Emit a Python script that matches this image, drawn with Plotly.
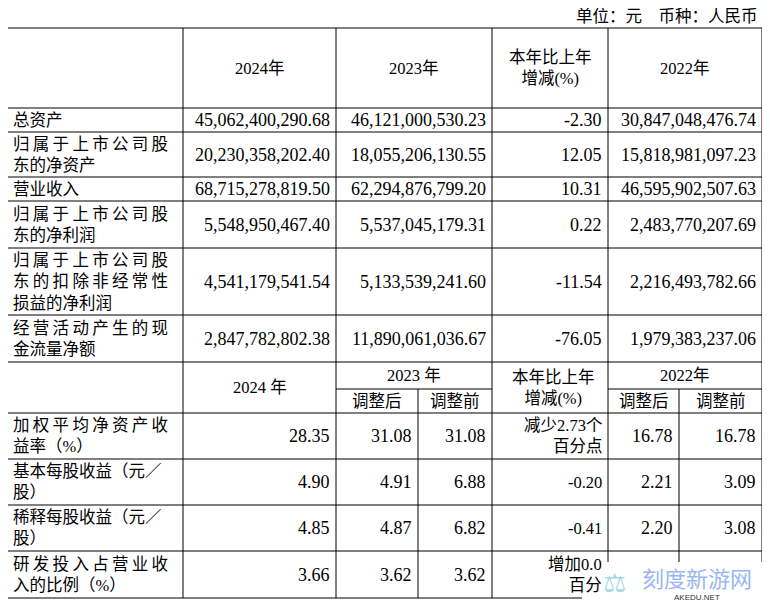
import plotly.graph_objects as go

unit_text = "单位：元　币种：人民币"
header1 = ["", "2024年", "2023年", "本年比上年<br>增减(%)", "2022年"]
labels1 = ["总资产", "归属于上市公司股<br>东的净资产", "营业收入", "归属于上市公司股<br>东的净利润",
           "归属于上市公司股<br>东的扣除非经常性<br>损益的净利润", "经营活动产生的现<br>金流量净额"]
v2024 = ["45,062,400,290.68", "20,230,358,202.40", "68,715,278,819.50", "5,548,950,467.40",
         "4,541,179,541.54", "2,847,782,802.38"]
v2023 = ["46,121,000,530.23", "18,055,206,130.55", "62,294,876,799.20", "5,537,045,179.31",
         "5,133,539,241.60", "11,890,061,036.67"]
vchg = ["-2.30", "12.05", "10.31", "0.22", "-11.54", "-76.05"]
v2022 = ["30,847,048,476.74", "15,818,981,097.23", "46,595,902,507.63", "2,483,770,207.69",
         "2,216,493,782.66", "1,979,383,237.06"]

labels2 = ["加权平均净资产收<br>益率（%）", "基本每股收益（元／<br>股）", "稀释每股收益（元／<br>股）",
           "研发投入占营业收<br>入的比例（%）"]
r2024 = ["28.35", "4.90", "4.85", "3.66"]
r2023a = ["31.08", "4.91", "4.87", "3.62"]
r2023b = ["31.08", "6.88", "6.82", "3.62"]
rchg = ["减少2.73个<br>百分点", "-0.20", "-0.41", "增加0.0<br>百分"]
r2022a = ["16.78", "2.21", "2.20", ""]
r2022b = ["16.78", "3.09", "3.08", ""]

X = [7, 183, 336, 492, 608, 762]
XS1, XS2 = 418, 679
Y1 = [28, 108, 132, 177, 201, 248, 315, 362]
YH2, YHM = 413, 389
Y2 = [413, 459, 505, 551, 598]

def spaced(s):
    lines = s.split("<br>")
    out = []
    for i, ln in enumerate(lines):
        if i < len(lines) - 1 and len(ln) == 8:
            ln = "\u2009".join(ln)
        out.append(ln)
    return "<br>".join(out)

fig = go.Figure()
shapes = []
def line(x0, y0, x1, y1):
    shapes.append(dict(type="line", x0=x0, y0=y0, x1=x1, y1=y1, xref="x", yref="y",
                       line=dict(color="black", width=1)))
for y in Y1 + [YH2] + Y2[1:]:
    line(X[0], y, X[-1], y)
line(X[2], YHM, X[3], YHM); line(X[4], YHM, X[5], YHM)
for x in X:
    line(x, Y1[0], x, Y2[-1])
line(XS1, YHM, XS1, Y2[-1]); line(XS2, YHM, XS2, Y2[-1])

ann = []
FN = dict(family="Liberation Serif, Noto Sans CJK SC", size=18, color="black")
FC = dict(family="Liberation Serif, Noto Sans CJK SC", size=16.5, color="black")
def t(x, y, s, anchor="right", f=FN):
    ann.append(dict(x=x, y=y, text=s, xref="x", yref="y", showarrow=False, xanchor=anchor,
                    yanchor="middle", align=anchor, font=f))

t(760, 16, unit_text, f=FC)
ymid = (Y1[0] + Y1[1]) / 2
for i in range(1, 5):
    t((X[i] + X[i + 1]) / 2, ymid, header1[i], "center", FC)
cols = [v2024, v2023, vchg, v2022]
for r in range(6):
    yc = (Y1[r + 1] + Y1[r + 2]) / 2
    t(X[0] + 4, yc, spaced(labels1[r]), "left", FC)
    for c in range(4):
        t(X[c + 2] - 4, yc, cols[c][r])
hm = (Y1[-1] + YH2) / 2
t((X[1] + X[2]) / 2, hm, "2024 年", "center", FC)
t((X[2] + X[3]) / 2, (Y1[-1] + YHM) / 2, "2023 年", "center", FC)
t((X[4] + X[5]) / 2, (Y1[-1] + YHM) / 2, "2022年", "center", FC)
t((X[3] + X[4]) / 2 + 3, hm, "本年比上年<br>增减(%)", "center", FC)
for xa, xb in [(X[2], XS1), (XS1, X[3]), (X[4], XS2), (XS2, X[5])]:
    t((xa + xb) / 2, (YHM + YH2) / 2, "调整后" if xa in (X[2], X[4]) else "调整前", "center", FC)
rx = [X[2], XS1, X[3], X[4], XS2, X[5]]
cols2 = [r2024, r2023a, r2023b, rchg, r2022a, r2022b]
for r in range(4):
    yc = (Y2[r] + Y2[r + 1]) / 2
    t(X[0] + 4, yc, spaced(labels2[r]), "left", FC)
    for c in range(6):
        if cols2[c][r]:
            t(rx[c] - 4, yc, cols2[c][r], f=FC if c == 3 else FN)

# watermark
shapes.append(dict(type="rect", x0=582, y0=562, x1=770, y1=608, xref="x", yref="y",
                   fillcolor="white", line=dict(width=0)))
shapes.append(dict(type="rect", x0=764, y0=562, x1=770, y1=608, xref="x", yref="y",
                   fillcolor="#e6e6e6", line=dict(width=0)))
ann.append(dict(x=697, y=577, text="刻度新游网", xref="x", yref="y", showarrow=False,
                font=dict(family="Noto Sans CJK SC", size=22, color="#9ab6f2")))
ann.append(dict(x=697, y=597, text="AKEDU.NET", xref="x", yref="y", showarrow=False,
                font=dict(family="Liberation Sans", size=8, color="#333")))
ann.append(dict(x=614, y=583, text="⚖", xref="x", yref="y", showarrow=False,
                font=dict(family="DejaVu Sans", size=26, color="#a8d8e8")))

fig.update_layout(width=770, height=608, margin=dict(l=0, r=0, t=0, b=0),
                  plot_bgcolor="white", paper_bgcolor="white", shapes=shapes, annotations=ann,
                  xaxis=dict(range=[8, 778], visible=False, fixedrange=True),
                  yaxis=dict(range=[616, 8], visible=False, fixedrange=True),
                  showlegend=False)
fig.write_html("out.html")
